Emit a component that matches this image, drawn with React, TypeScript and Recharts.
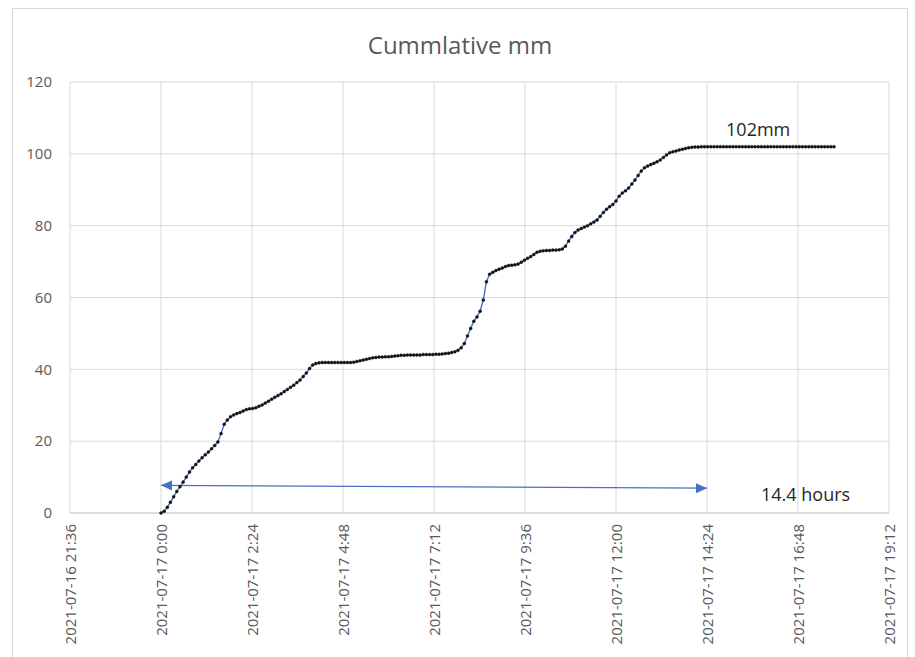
import React from 'react';
import { LineChart, Line, XAxis, YAxis, CartesianGrid, ReferenceLine, ReferenceDot } from 'recharts';

// Cumulative rainfall (mm), one reading every 5 minutes starting 2021-07-17 0:00
const hour00 = [0, 0.5, 1.6, 3.0, 4.5, 6.0, 7.3, 8.6, 10.0, 11.4, 12.6, 13.5];
const hour01 = [14.5, 15.4, 16.2, 17.0, 17.9, 18.8, 19.8, 22.1, 24.7, 25.9, 26.8, 27.3];
const hour02 = [27.7, 28.0, 28.4, 28.8, 29.0, 29.1, 29.3, 29.7, 30.1, 30.6, 31.1, 31.7];
const hour03 = [32.2, 32.7, 33.2, 33.8, 34.4, 35.0, 35.6, 36.3, 37.0, 38.0, 39.0, 40.2];
const hour04 = [41.2, 41.6, 41.8, 41.9, 41.9, 41.9, 41.9, 41.9, 41.9, 41.9, 41.9, 41.9];
const hour05 = [41.9, 42.0, 42.2, 42.4, 42.6, 42.8, 43.0, 43.2, 43.3, 43.4, 43.4, 43.5];
const hour06 = [43.5, 43.6, 43.7, 43.8, 43.9, 43.9, 44.0, 44.0, 44.0, 44.0, 44.0, 44.1];
const hour07 = [44.1, 44.1, 44.1, 44.2, 44.2, 44.3, 44.4, 44.5, 44.7, 44.9, 45.3, 46.0];
const hour08 = [47.2, 49.3, 51.4, 53.4, 54.6, 56.2, 59.3, 64.4, 66.5, 67.0, 67.5, 67.9];
const hour09 = [68.2, 68.6, 68.9, 69.0, 69.1, 69.3, 69.8, 70.4, 70.9, 71.4, 72.0, 72.6];
const hour10 = [72.9, 73.0, 73.1, 73.1, 73.2, 73.2, 73.3, 73.5, 74.3, 75.7, 77.0, 78.1];
const hour11 = [78.8, 79.2, 79.6, 80.0, 80.5, 81.0, 81.6, 82.6, 83.7, 84.6, 85.3, 85.9];
const hour12 = [86.9, 88.2, 89.1, 89.7, 90.5, 91.6, 92.7, 94.0, 95.2, 96.1, 96.6, 97.0];
const hour13 = [97.4, 97.8, 98.3, 99.0, 99.7, 100.3, 100.6, 100.8, 101.1, 101.3, 101.5, 101.7];
const hour14 = [101.8, 101.9, 101.9, 102.0, 102.0, 102.0, 102.0, 102.0, 102.0, 102.0, 102.0, 102.0];
const hour15 = [102.0, 102.0, 102.0, 102.0, 102.0, 102.0, 102.0, 102.0, 102.0, 102.0, 102.0, 102.0];
const hour16 = [102.0, 102.0, 102.0, 102.0, 102.0, 102.0, 102.0, 102.0, 102.0, 102.0, 102.0, 102.0];
const hour17 = [102.0, 102.0, 102.0, 102.0, 102.0, 102.0, 102.0, 102.0, 102.0, 102.0];

const cumulativeMm = [
  ...hour00, ...hour01, ...hour02, ...hour03, ...hour04, ...hour05,
  ...hour06, ...hour07, ...hour08, ...hour09, ...hour10, ...hour11,
  ...hour12, ...hour13, ...hour14, ...hour15, ...hour16, ...hour17,
];

const xTickLabels = [
  '2021-07-16 21:36', '2021-07-17 0:00', '2021-07-17 2:24', '2021-07-17 4:48',
  '2021-07-17 7:12', '2021-07-17 9:36', '2021-07-17 12:00', '2021-07-17 14:24',
  '2021-07-17 16:48', '2021-07-17 19:12',
];
const yTicks = [0, 20, 40, 60, 80, 100, 120];

const title = 'Cummlative mm';
const totalLabel = '102mm';
const durationLabel = '14.4 hours';
const arrowStart = { time: '2021-07-17 0:00', mm: 7.7 };
const arrowEnd = { time: '2021-07-17 14:24', mm: 6.9 };
const totalLabelPos = { time: '2021-07-17 15:45', mm: 105.0 };
const durationLabelPos = { time: '2021-07-17 17:00', mm: 3.4 };

const parseTime = (s: string) => {
  const [d, t] = s.split(' ');
  const [y, mo, da] = d.split('-').map(Number);
  const [h, mi] = t.split(':').map(Number);
  return Date.UTC(y, mo - 1, da, h, mi);
};

const START = parseTime('2021-07-17 0:00');
const STEP_MS = 5 * 60 * 1000;
const data = cumulativeMm.map((mm, i) => ({ t: START + i * STEP_MS, mm }));
const xTicks = xTickLabels.map(parseTime);

const FONT = '"Open Sans", "Liberation Sans", sans-serif';
const GRAY = '#595959';

const XTick = (props: any) => {
  const { x, y, payload } = props;
  const idx = xTicks.indexOf(payload.value);
  return (
    <text
      transform={`translate(${x},${y + 3}) rotate(-90)`}
      textAnchor="end"
      dominantBaseline="central"
      fill={GRAY}
      fontSize={15}
      fontFamily={FONT}
    >
      {idx >= 0 ? xTickLabels[idx] : ''}
    </text>
  );
};

const ArrowShape = (props: any) => {
  const { x1, y1, x2, y2 } = props;
  const c = '#4472C4';
  const ang = Math.atan2(y2 - y1, x2 - x1);
  const len = 11;
  const half = 5;
  const head = (tx: number, ty: number, a: number) => {
    const bx = tx - len * Math.cos(a);
    const by = ty - len * Math.sin(a);
    const px = -Math.sin(a) * half;
    const py = Math.cos(a) * half;
    return `${tx},${ty} ${bx + px},${by + py} ${bx - px},${by - py}`;
  };
  return (
    <g>
      <line x1={x1} y1={y1} x2={x2} y2={y2} stroke={c} strokeWidth={1.2} />
      <polygon points={head(x2, y2, ang)} fill={c} />
      <polygon points={head(x1, y1, ang + Math.PI)} fill={c} />
    </g>
  );
};

const makeTextShape = (label: string) => (props: any) => (
  <text
    x={props.cx}
    y={props.cy}
    textAnchor="middle"
    fill="#262626"
    fontSize={18}
    fontFamily={FONT}
  >
    {label}
  </text>
);

export default function App() {
  return (
    <div style={{ position: 'absolute', left: 0, top: 0, width: 915, height: 657, background: '#fff', overflow: 'hidden' }}>
      <div
        style={{
          position: 'absolute', left: 12, top: 8, width: 896, height: 680,
          border: '1px solid #d9d9d9', boxSizing: 'border-box',
        }}
      />
      <div
        style={{
          position: 'absolute', left: 12, width: 896, top: 29, textAlign: 'center',
          fontFamily: FONT, fontSize: 24, color: GRAY, lineHeight: '32px',
        }}
      >
        {title}
      </div>
      <div style={{ position: 'absolute', left: 0, top: 0 }}>
        <LineChart width={915} height={657} data={data} margin={{ top: 82, right: 26, bottom: 0, left: 0 }}>
          <CartesianGrid stroke="#d9d9d9" strokeWidth={1} />
          <XAxis
            dataKey="t"
            type="number"
            domain={[xTicks[0], xTicks[xTicks.length - 1]]}
            ticks={xTicks}
            tick={<XTick />}
            tickLine={false}
            axisLine={{ stroke: '#d0d0d0' }}
            height={144}
            interval={0}
            allowDataOverflow
          />
          <YAxis
            type="number"
            domain={[0, 120]}
            ticks={yTicks}
            width={70}
            tickLine={false}
            axisLine={false}
            tickMargin={12}
            tick={{ fill: GRAY, fontSize: 15, fontFamily: FONT }}
            interval={0}
          />
          <ReferenceLine
            segment={[
              { x: parseTime(arrowStart.time), y: arrowStart.mm },
              { x: parseTime(arrowEnd.time), y: arrowEnd.mm },
            ]}
            shape={ArrowShape}
            ifOverflow="visible"
          />
          <Line
            type="linear"
            dataKey="mm"
            stroke="#4472C4"
            strokeWidth={1.4}
            dot={{ r: 1.5, fill: '#111', stroke: '#111', strokeWidth: 0.4 }}
            isAnimationActive={false}
          />
          <ReferenceDot
            x={parseTime(totalLabelPos.time)}
            y={totalLabelPos.mm}
            r={1}
            shape={makeTextShape(totalLabel)}
            ifOverflow="visible"
          />
          <ReferenceDot
            x={parseTime(durationLabelPos.time)}
            y={durationLabelPos.mm}
            r={1}
            shape={makeTextShape(durationLabel)}
            ifOverflow="visible"
          />
        </LineChart>
      </div>
    </div>
  );
}
